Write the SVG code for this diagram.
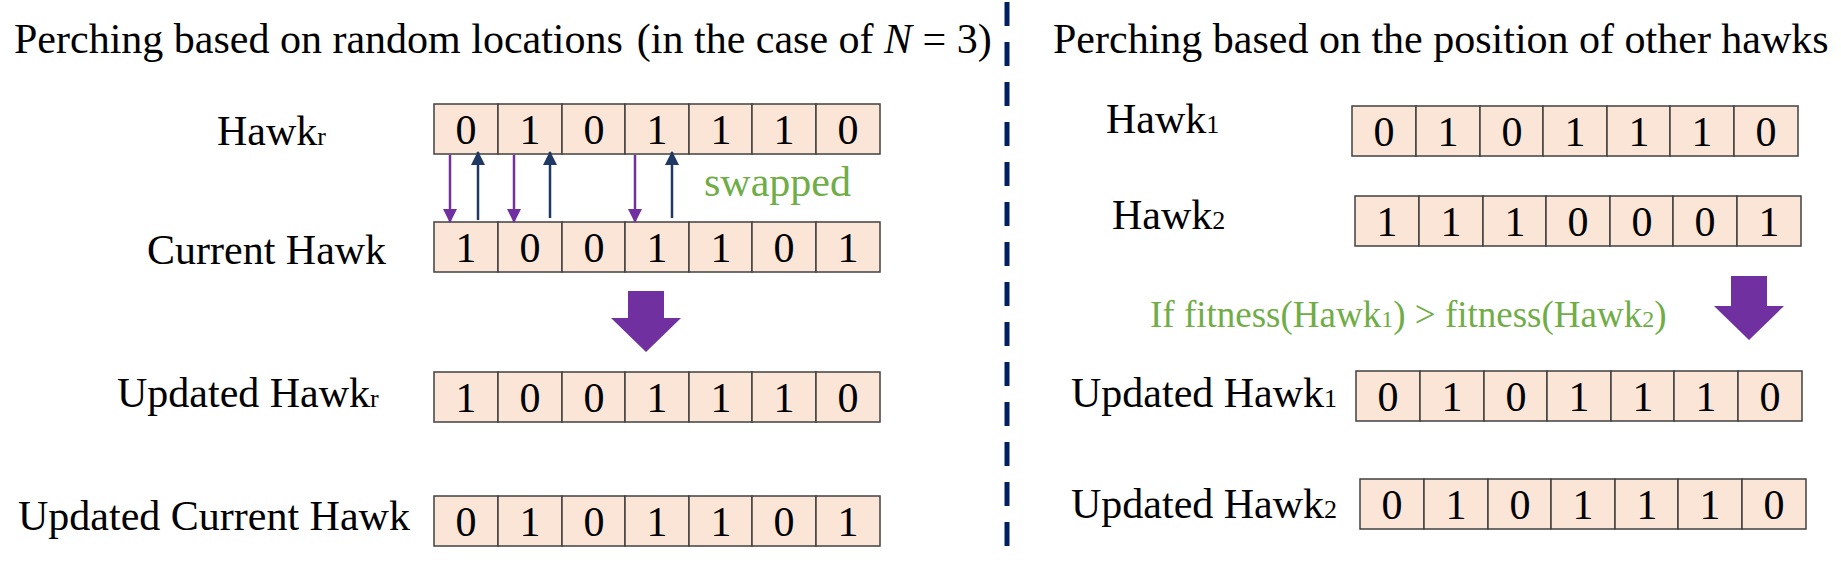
<svg xmlns="http://www.w3.org/2000/svg" xmlns:xlink="http://www.w3.org/1999/xlink" width="1841" height="564" viewBox="0 0 1841 564">
<style>
text{font-family:"Liberation Serif","Times New Roman",serif;fill:#000}
.lbl{font-size:42px}
.d{font-size:42px;text-anchor:middle}
.g{fill:#70ad47}
.s{font-size:26px}
.c{fill:#fbe5d6;stroke:#404040;stroke-width:1.5}
</style>
<defs>
<g id="row">
<rect class="c" x="0" y="0" width="64" height="50"/><rect class="c" x="64" y="0" width="64" height="50"/><rect class="c" x="128" y="0" width="63" height="50"/><rect class="c" x="191" y="0" width="64" height="50"/><rect class="c" x="255" y="0" width="63" height="50"/><rect class="c" x="318" y="0" width="64" height="50"/><rect class="c" x="382" y="0" width="64" height="50"/>
</g>
<marker id="mp" markerWidth="14" markerHeight="14" refX="13" refY="7" orient="auto" viewBox="0 0 14 14" markerUnits="userSpaceOnUse"><path d="M0,0 L14,7 L0,14 z" fill="#7030a0"/></marker>
<marker id="mn" markerWidth="14" markerHeight="14" refX="13" refY="7" orient="auto" viewBox="0 0 14 14" markerUnits="userSpaceOnUse"><path d="M0,0 L14,7 L0,14 z" fill="#1f3864"/></marker>
</defs>
<text class="lbl" x="14" y="53">Perching based on random locations<tspan dx="14">(in the case of </tspan><tspan font-style="italic">N</tspan> = 3)</text>
<text class="lbl" x="1053" y="53">Perching based on the position of other hawks</text>
<line x1="1007" y1="2" x2="1007" y2="562" stroke="#002060" stroke-width="5" stroke-dasharray="24,16"/>

<g id="hawkr"><text class="lbl" x="217" y="145">Hawk<tspan class="s">r</tspan></text>
<use xlink:href="#row" x="434" y="104"/>
<g transform="translate(434,144)"><text class="d" x="32">0</text><text class="d" x="96">1</text><text class="d" x="160">0</text><text class="d" x="223">1</text><text class="d" x="287">1</text><text class="d" x="350">1</text><text class="d" x="414">0</text></g></g>

<g id="current"><text class="lbl" x="147" y="264">Current Hawk</text>
<use xlink:href="#row" x="434" y="222"/>
<g transform="translate(434,262)"><text class="d" x="32">1</text><text class="d" x="96">0</text><text class="d" x="160">0</text><text class="d" x="223">1</text><text class="d" x="287">1</text><text class="d" x="350">0</text><text class="d" x="414">1</text></g></g>

<g id="connectors" stroke-width="2.5">
<line x1="450" y1="155" x2="450" y2="222" stroke="#7030a0" marker-end="url(#mp)"/>
<line x1="514" y1="155" x2="514" y2="222" stroke="#7030a0" marker-end="url(#mp)"/>
<line x1="635" y1="155" x2="635" y2="222" stroke="#7030a0" marker-end="url(#mp)"/>
<line x1="478" y1="220" x2="478" y2="152" stroke="#1f3864" marker-end="url(#mn)"/>
<line x1="550" y1="218" x2="550" y2="152" stroke="#1f3864" marker-end="url(#mn)"/>
<line x1="672" y1="218" x2="672" y2="152" stroke="#1f3864" marker-end="url(#mn)"/>
<path d="M628,291 H664 V318 H681 L646,352 L611,318 H628 Z" fill="#7030a0"/>
<path d="M1731,276 H1767 V306 H1784 L1749,340 L1714,306 H1731 Z" fill="#7030a0"/>
</g>
<text class="lbl g" x="704" y="196" font-size="40">swapped</text>

<g id="updr"><text class="lbl" x="117" y="407">Updated Hawk<tspan class="s">r</tspan></text>
<use xlink:href="#row" x="434" y="372"/>
<g transform="translate(434,412)"><text class="d" x="32">1</text><text class="d" x="96">0</text><text class="d" x="160">0</text><text class="d" x="223">1</text><text class="d" x="287">1</text><text class="d" x="350">1</text><text class="d" x="414">0</text></g></g>

<g id="updcur"><text class="lbl" x="18" y="530">Updated Current Hawk</text>
<use xlink:href="#row" x="434" y="496"/>
<g transform="translate(434,536)"><text class="d" x="32">0</text><text class="d" x="96">1</text><text class="d" x="160">0</text><text class="d" x="223">1</text><text class="d" x="287">1</text><text class="d" x="350">0</text><text class="d" x="414">1</text></g></g>

<g id="hawk1"><text class="lbl" x="1106" y="133">Hawk<tspan class="s">1</tspan></text>
<use xlink:href="#row" x="1352" y="106"/>
<g transform="translate(1352,146)"><text class="d" x="32">0</text><text class="d" x="96">1</text><text class="d" x="160">0</text><text class="d" x="223">1</text><text class="d" x="287">1</text><text class="d" x="350">1</text><text class="d" x="414">0</text></g></g>

<g id="hawk2"><text class="lbl" x="1112" y="229">Hawk<tspan class="s">2</tspan></text>
<use xlink:href="#row" x="1355" y="196"/>
<g transform="translate(1355,236)"><text class="d" x="32">1</text><text class="d" x="96">1</text><text class="d" x="160">1</text><text class="d" x="223">0</text><text class="d" x="287">0</text><text class="d" x="350">0</text><text class="d" x="414">1</text></g></g>

<text class="g" x="1150" y="327" font-size="37">If fitness(Hawk<tspan font-size="24">1</tspan>) &gt; fitness(Hawk<tspan font-size="24">2</tspan>)</text>

<g id="upd1"><text class="lbl" x="1071" y="407">Updated Hawk<tspan class="s">1</tspan></text>
<use xlink:href="#row" x="1356" y="371"/>
<g transform="translate(1356,411)"><text class="d" x="32">0</text><text class="d" x="96">1</text><text class="d" x="160">0</text><text class="d" x="223">1</text><text class="d" x="287">1</text><text class="d" x="350">1</text><text class="d" x="414">0</text></g></g>

<g id="upd2"><text class="lbl" x="1071" y="518">Updated Hawk<tspan class="s">2</tspan></text>
<use xlink:href="#row" x="1360" y="479"/>
<g transform="translate(1360,519)"><text class="d" x="32">0</text><text class="d" x="96">1</text><text class="d" x="160">0</text><text class="d" x="223">1</text><text class="d" x="287">1</text><text class="d" x="350">1</text><text class="d" x="414">0</text></g></g>
</svg>
